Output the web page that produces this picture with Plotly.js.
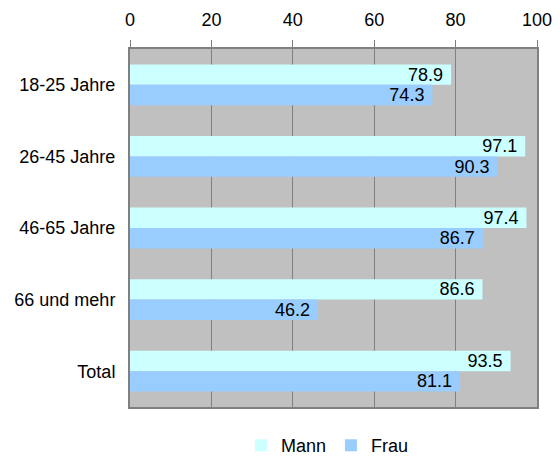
<!DOCTYPE html>
<html><head><meta charset="utf-8">
<script src="https://cdn.plot.ly/plotly-3.0.1.min.js"></script>
<style>body{margin:0;background:#fff}#c{width:560px;height:457px}</style>
</head><body><div id="c"></div>
<script>
const categories = ["18-25 Jahre","26-45 Jahre","46-65 Jahre","66 und mehr","Total"];
const mann = [78.9, 97.1, 97.4, 86.6, 93.5];
const frau = [74.3, 90.3, 86.7, 46.2, 81.1];
const tickVals = [0,20,40,60,80,100];

const FAM = "Liberation Sans";
function tr(name, vals, color){
  return {type:"bar", orientation:"h", name:name, y:categories, x:vals,
    marker:{color:color, line:{width:0}},
    texttemplate:"%{x:.1f}\u00a0", textposition:"inside", insidetextanchor:"end",
    textfont:{family:FAM, size:18, color:"#000"}, constraintext:"none",
    hoverinfo:"none"};
}
const data = [tr("Mann", mann, "#CCFFFF"), tr("Frau", frau, "#99CCFF")];
const layout = {
  width:560, height:457, barmode:"group", bargap:0.43, bargroupgap:0,
  paper_bgcolor:"#fff", plot_bgcolor:"#C0C0C0",
  margin:{l:130, r:23, t:49, b:50, autoexpand:false},
  font:{family:FAM, size:18, color:"#000"}, showlegend:true,
  legend:{orientation:"h", x:0.485, xanchor:"center", yref:"container", y:0.025, yanchor:"middle",
    font:{family:FAM, size:18}, itemwidth:30},
  xaxis:{side:"top", range:[0,100], tickvals:tickVals, ticks:"outside", ticklen:7,
    tickcolor:"#808080", showgrid:true, gridcolor:"#808080", gridwidth:1,
    zeroline:false, showline:true, linecolor:"#808080", linewidth:2, mirror:true,
    tickfont:{family:FAM, size:18}, ticklabelstandoff:7, automargin:false, fixedrange:true},
  yaxis:{autorange:"reversed", ticks:"", showline:true, linecolor:"#808080", linewidth:2,
    mirror:true, tickfont:{family:FAM, size:18}, ticklabelstandoff:9, automargin:false, fixedrange:true}
};
Plotly.newPlot("c", data, layout, {displayModeBar:false, staticPlot:true});
</script></body></html>
